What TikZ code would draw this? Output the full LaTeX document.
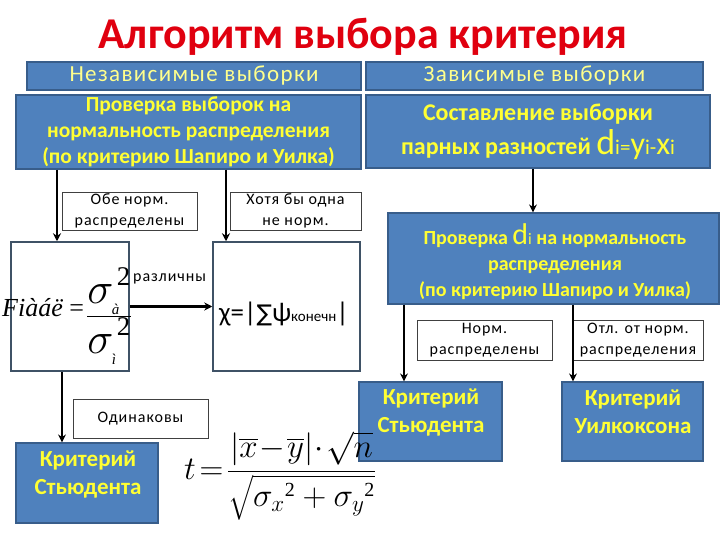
\RequirePackage{fix-cm}
\documentclass[tikz,border=0pt]{standalone}
\usepackage{fontspec}
\usepackage{amsmath}
\setmainfont{Carlito}
\newfontfamily\spfont[LetterSpace=6]{Carlito}
\newfontfamily\tnr{Liberation Serif}
\newfontfamily\dejavu{DejaVu Sans}
\usetikzlibrary{arrows.meta}
\definecolor{boxblue}{HTML}{4F81BD}
\definecolor{boxedge}{HTML}{385D8A}
\definecolor{titlered}{HTML}{E0000F}
\definecolor{pale}{HTML}{FFFF8C}
\definecolor{ylw}{HTML}{FFFF33}
\definecolor{slate}{HTML}{3F5266}
\newcommand{\smtxt}[2]{\text{\fontsize{#1}{#1}\selectfont\tnr #2}}
\begin{document}
\begin{tikzpicture}[x=1pt,y=-1pt,
  bluebox/.style={draw=boxedge,fill=boxblue,line width=1.2pt,inner sep=0pt,align=center},
  hdr/.style={bluebox,text=pale,font=\fontsize{23}{26}\selectfont\spfont},
  bbox/.style={bluebox,text=ylw,font=\fontsize{21.5}{26}\selectfont\bfseries},
  btext/.style={text=ylw,align=center,inner sep=0pt,font=\fontsize{23}{28}\selectfont\bfseries},
  wbox/.style={draw=black!75,fill=white,line width=0.8pt,inner sep=0pt,align=center,font=\fontsize{16}{21}\selectfont\spfont},
  fbox/.style={draw=slate,fill=white,line width=1.5pt,inner sep=0pt},
  arr/.style={line width=2.6pt,-{Stealth[length=8pt,width=8pt]}}]
\useasboundingbox (0,0) rectangle (720,540);

\node[text=titlered,font=\fontsize{44}{48}\selectfont\bfseries] (title) at (363,37) {Алгоритм выбора критерия};

\node[hdr,minimum width=334pt,minimum height=28pt] (hL) at (194,76) {Независимые выборки};
\node[hdr,minimum width=337pt,minimum height=28pt] (hR) at (534.5,76) {Зависимые выборки};

\node[bbox,minimum width=345pt,minimum height=74pt] (bL) at (188.5,132)
  {Проверка выборок на\\нормальность распределения\\(по критерию Шапиро и Уилка)};
\node[bluebox,minimum width=344pt,minimum height=73pt] (bR) at (538,131.5) {};
\node[btext,font=\fontsize{24}{34}\selectfont\bfseries] (bRt) at (538,132)
  {Составление выборки\\парных разностей {\mdseries\fontsize{36}{36}\selectfont d\fontsize{21}{21}\selectfont i=\fontsize{32}{32}\selectfont y\fontsize{21}{21}\selectfont i-\fontsize{32}{32}\selectfont x\fontsize{21}{21}\selectfont i}};

\node[wbox,minimum width=135pt,minimum height=38pt] (obe) at (129.5,211) {Обе норм.\\распределены};
\node[wbox,minimum width=131pt,minimum height=38pt] (khot) at (295.5,211) {Хотя бы одна\\не норм.};

\node[fbox,minimum width=118pt,minimum height=129pt] (fb) at (70,306.5) {};
\node[fbox,minimum width=147pt,minimum height=129pt] (cb) at (286.5,306.5) {};

\node[anchor=west,inner sep=0pt,font=\fontsize{26}{30}\selectfont\tnr] (fl) at (2,308) {\itshape Fiàáë \upshape=};
\node[anchor=west,inner sep=0pt,font=\fontsize{44}{48}\selectfont] (fr) at (86,316)
  {$\textstyle\frac{\displaystyle\sigma_{\smtxt{15}{\itshape à}}^{\mkern2mu\smtxt{27}{2}}}{\displaystyle\rule{0pt}{26pt}\sigma_{\smtxt{15}{\itshape ì}}^{\mkern2mu\smtxt{27}{2}}}$};

\node[anchor=west,inner sep=0pt,font=\fontsize{16}{18}\selectfont\spfont] (razl) at (133,279) {различны};

\node[anchor=west,inner sep=0pt] (chi) at (219,314)
  {\fontsize{27}{27}\selectfont χ=|{\dejavu\fontsize{23}{23}\selectfont ∑}ψ\fontsize{15}{15}\selectfont конечн\fontsize{27}{27}\selectfont|};

\node[bluebox,minimum width=331pt,minimum height=91pt] (pd) at (553.5,258.5) {};
\node[btext,font=\fontsize{20}{26}\selectfont\bfseries] (pdt) at (555,262)
  {Проверка {\mdseries\fontsize{30}{30}\selectfont d\fontsize{16}{16}\selectfont i} на нормальность\\распределения\\(по критерию Шапиро и Уилка)};

\node[wbox,minimum width=135pt,minimum height=40pt] (norm) at (484.5,340) {Норм.\\распределены};
\node[wbox,minimum width=130pt,minimum height=40pt] (otl) at (638,340) {Отл. от норм.\\распределения};

\node[wbox,minimum width=135pt,minimum height=39pt] (odin) at (140.5,418.5) {Одинаковы};

\node[bluebox,minimum width=142pt,minimum height=80pt] (stL) at (87,483) {};
\node[btext] (stLt) at (88,474) {Критерий\\Стьюдента};
\node[bluebox,minimum width=143pt,minimum height=79pt] (stR) at (430.5,421.5) {};
\node[btext] (stRt) at (431,412) {Критерий\\Стьюдента};
\node[bluebox,minimum width=141pt,minimum height=79pt] (wil) at (632.5,421.5) {};
\node[btext] (wilt) at (633,412) {Критерий\\Уилкоксона};

\node[anchor=west,inner sep=0pt,font=\fontsize{33}{37}\selectfont] (tf) at (184,476)
  {$t\!=\!\dfrac{\left|\overline{x}\!-\!\overline{y}\right|\!\cdot\!\sqrt{n}}{\sqrt{{\sigma_{x}}^{\smtxt{20}{2}}+{\sigma_{y}}^{\smtxt{20}{2}}}}$};

% connectors
\coordinate (a1) at (57,242);
\draw[arr] (bL.south -| a1) -- (fb.north -| a1);
\coordinate (a2) at (226,242);
\draw[arr] (bL.south -| a2) -- (cb.north -| a2);
\coordinate (a3) at (533,213);
\draw[arr] (bR.south -| a3) -- (pd.north -| a3);
\draw[arr] (fb.east) -- (cb.west);
\coordinate (a4) at (62,443);
\draw[arr] (fb.south -| a4) -- (stL.north -| a4);
\coordinate (a5) at (404,382);
\draw[arr] (pd.south -| a5) -- (stR.north -| a5);
\coordinate (a6) at (573,382);
\draw[arr] (pd.south -| a6) -- (wil.north -| a6);
\end{tikzpicture}
\end{document}
